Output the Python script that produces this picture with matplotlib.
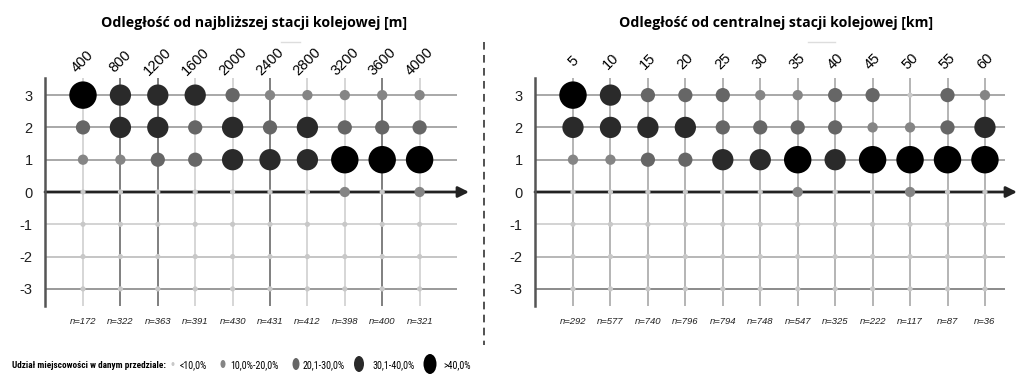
import matplotlib
matplotlib.use('Agg')
import matplotlib.pyplot as plt
from matplotlib.patches import Ellipse

# ---------------- data ----------------
left_title = 'Odległość od najbliższej stacji kolejowej [m]'
right_title = 'Odległość od centralnej stacji kolejowej [km]'
left_ticks = ['400', '800', '1200', '1600', '2000', '2400', '2800', '3200', '3600', '4000']
left_n = [172, 322, 363, 391, 430, 431, 412, 398, 400, 321]
right_ticks = ['5', '10', '15', '20', '25', '30', '35', '40', '45', '50', '55', '60']
right_n = [292, 577, 740, 796, 794, 748, 547, 325, 222, 117, 87, 36]
row_values = [3, 2, 1, 0, -1, -2, -3]

# share class (0: <10%, 1: 10-20%, 2: 20.1-30%, 3: 30.1-40%, 4: >40%) per row (top to bottom)
left_classes = [
    [4, 3, 3, 3, 2, 1, 1, 1, 1, 1],
    [2, 3, 3, 2, 3, 2, 3, 2, 2, 2],
    [1, 1, 2, 2, 3, 3, 3, 4, 4, 4],
    [0, 0, 0, 0, 0, 0, 0, 1, 0, 1],
    [0, 0, 0, 0, 0, 0, 0, 0, 0, 0],
    [0, 0, 0, 0, 0, 0, 0, 0, 0, 0],
    [0, 0, 0, 0, 0, 0, 0, 0, 0, 0],
]
right_classes = [
    [4, 3, 2, 2, 2, 1, 1, 2, 2, 0, 2, 1],
    [3, 3, 3, 3, 2, 2, 2, 2, 1, 1, 2, 3],
    [1, 1, 2, 2, 3, 3, 4, 3, 4, 4, 4, 4],
    [0, 0, 0, 0, 0, 0, 1, 0, 0, 1, 0, 0],
    [0, 0, 0, 0, 0, 0, 0, 0, 0, 0, 0, 0],
    [0, 0, 0, 0, 0, 0, 0, 0, 0, 0, 0, 0],
    [0, 0, 0, 0, 0, 0, 0, 0, 0, 0, 0, 0],
]
legend_title = 'Udział miejscowości w danym przedziale:'
class_labels = ['<10,0%', '10,0%-20,0%', '20,1-30,0%', '30,1-40,0%', '>40,0%']

# ---------------- styles ----------------
class_sizes = [14, 55, 105, 235, 390]
class_colors = ['#c8c8c8', '#858585', '#666666', '#2a2a2a', '#000000']

W, H = 1024, 381
fig = plt.figure(figsize=(W / 100, H / 100), dpi=100)


def px_axes(x0, x1, y0, y1):
    return fig.add_axes([x0 / W, 1 - y1 / H, (x1 - x0) / W, (y1 - y0) / H])


def panel(ax, ticks, ns, classes, vcolors, hcolors, col0, step, spine_px, end_px, tip_px):
    ncol = len(ticks)
    xl = (spine_px - col0) / step
    xr = (end_px - col0) / step
    tip = (tip_px - col0) / step
    ax.set_xlim(xl, xr)
    ax.set_ylim(-3.53, 3.53)
    ax.patch.set_alpha(0)
    for s in ['top', 'right', 'bottom']:
        ax.spines[s].set_visible(False)
    ax.spines['left'].set_color('#555555')
    ax.spines['left'].set_linewidth(1.8)
    ax.set_xticks([])
    ax.set_yticks(row_values)
    ax.set_yticklabels([str(v) for v in row_values], fontsize=10.5, family='Liberation Sans',
                       color='#222222')
    ax.tick_params(axis='y', length=0, pad=9)
    for i in range(ncol):
        ax.axvline(i, color=vcolors[i], lw=1.2, zorder=1)
    for j, r in enumerate(row_values):
        if r == 0:
            ax.annotate('', xy=(tip, 0), xytext=(xl, 0),
                        arrowprops=dict(arrowstyle='-|>', color='#222222', lw=2,
                                        mutation_scale=16, shrinkA=0, shrinkB=0),
                        annotation_clip=False, zorder=2)
        else:
            ax.axhline(r, color=hcolors[j], lw=1.2, zorder=1)
    for j, r in enumerate(row_values):
        cls = classes[j]
        ax.scatter(list(range(ncol)), [r] * ncol,
                   s=[class_sizes[c] for c in cls],
                   c=[class_colors[c] for c in cls], linewidths=0, zorder=3)
    for i, t in enumerate(ticks):
        ax.text(i, 4.05, t, rotation=45, ha='center', va='center', fontsize=10.5,
                family='Liberation Sans', clip_on=False)
        ax.text(i, -4.02, 'n=%d' % ns[i], ha='center', va='center', fontsize=6.8,
                style='italic', family='Liberation Sans', color='#222222', clip_on=False)


axL = px_axes(45, 457, 78, 306)
left_v = ['#d0d0d0', '#6a6a6a', '#6a6a6a', '#d0d0d0', '#d0d0d0', '#6a6a6a', '#d0d0d0', '#d0d0d0', '#6a6a6a', '#d0d0d0']
left_h = ['#999999', '#999999', '#999999', '#333333', '#cccccc', '#bbbbbb', '#888888']
panel(axL, left_ticks, left_n, left_classes, left_v, left_h, 83, 37.4, 45, 457, 469)

axR = px_axes(535, 1005, 78, 306)
right_v = ['#a8a8a8'] * 12
right_h = ['#999999', '#999999', '#999999', '#333333', '#cccccc', '#aaaaaa', '#777777']
panel(axR, right_ticks, right_n, right_classes, right_v, right_h, 573, 37.45, 535, 1005, 1017)

# overlay in pixel coordinates
ov = fig.add_axes([0, 0, 1, 1], zorder=-1)
ov.set_xlim(0, W)
ov.set_ylim(H, 0)
ov.axis('off')

ov.text(254, 23, left_title, ha='center', va='center', fontsize=10.2,
        fontweight='bold', family=['Open Sans', 'DejaVu Sans'])
ov.text(776, 23, right_title, ha='center', va='center', fontsize=10.2,
        fontweight='bold', family=['Open Sans', 'DejaVu Sans'])
ov.plot([281, 300], [42, 42], color='#dddddd', lw=1)
ov.plot([808, 835], [42, 42], color='#dddddd', lw=1)

ov.plot([484, 484], [42, 345], color='#222222', lw=1.1, ls=(0, (5, 3.5)))

# legend
lfam = ['Roboto Condensed', 'Open Sans', 'DejaVu Sans']
ov.text(12, 365, legend_title, ha='left', va='center', fontsize=6.7, fontweight='bold',
        family=lfam)
mk_x = [173, 223, 296, 359, 430]
mk_wh = [(3, 4), (5, 8), (7, 12), (10, 16), (13, 20)]
lab_x = [180, 230, 303, 372, 443]
for k in range(5):
    ov.add_patch(Ellipse((mk_x[k], 364), mk_wh[k][0], mk_wh[k][1], color=class_colors[k], lw=0))
    ov.text(lab_x[k], 365, class_labels[k], ha='left', va='center', fontsize=7.2, family=lfam)

fig.savefig('out.png', dpi=100)
